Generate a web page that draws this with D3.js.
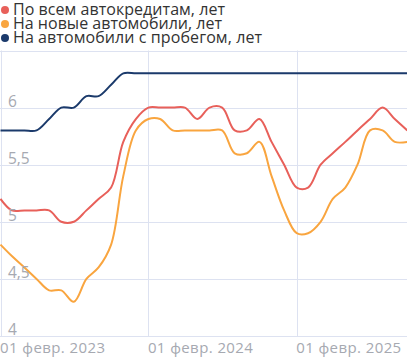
<!DOCTYPE html>
<html><head><meta charset="utf-8">
<script src="https://cdn.jsdelivr.net/npm/d3@7"></script>
<style>
html,body{margin:0;padding:0;background:#fff;}
svg{display:block;font-family:"Open Sans",sans-serif;}
</style></head>
<body>
<svg id="c" width="407" height="360"></svg>
<script>
const months = ["2023-02","2023-03","2023-04","2023-05","2023-06","2023-07","2023-08","2023-09","2023-10","2023-11","2023-12",
"2024-01","2024-02","2024-03","2024-04","2024-05","2024-06","2024-07","2024-08","2024-09","2024-10","2024-11","2024-12",
"2025-01","2025-02","2025-03","2025-04","2025-05","2025-06","2025-07","2025-08","2025-09","2025-10","2025-11"];
const allLoans = [5.2,5.1,5.1,5.1,5.1,5.0,5.0,5.1,5.2,5.3,5.7,
5.9,6.0,6.0,6.0,6.0,5.9,6.0,6.0,5.8,5.8,5.9,5.7,
5.5,5.3,5.3,5.5,5.6,5.7,5.8,5.9,6.0,5.9,5.8];
const newCars = [4.8,4.7,4.6,4.5,4.4,4.4,4.3,4.5,4.6,4.8,5.4,
5.8,5.9,5.9,5.8,5.8,5.8,5.8,5.8,5.6,5.6,5.7,5.4,
5.1,4.9,4.9,5.0,5.2,5.3,5.5,5.8,5.8,5.7,5.7];
const usedCars = [5.8,5.8,5.8,5.8,5.9,6.0,6.0,6.1,6.1,6.2,6.3,
6.3,6.3,6.3,6.3,6.3,6.3,6.3,6.3,6.3,6.3,6.3,6.3,
6.3,6.3,6.3,6.3,6.3,6.3,6.3,6.3,6.3,6.3,6.3];
const seriesNames = ["По всем автокредитам, лет","На новые автомобили, лет","На автомобили с пробегом, лет"];
const colors = ["#e8605a","#f9a53f","#1b3a6b"];
const yTicks = [4,4.5,5,5.5,6];
const yTickLabels = ["4","4,5","5","5,5","6"];
const xTickDates = ["2023-02-01","2024-02-01","2025-02-01"];
const xTickLabels = ["01 февр. 2023","01 февр. 2024","01 февр. 2025"];

const svg = d3.select("#c");
const W = 407, pTop = 50.5, pBottom = 336;
const parse = d3.timeParse("%Y-%m");
const dates = months.map(parse);
const x = d3.scaleTime().domain([new Date(2023,1,1), new Date(2025,1,1)]).range([0.5, 296.7]);
const y = d3.scaleLinear().domain([4,6.5]).range([pBottom, pTop]);

const grid = svg.append("g");
yTicks.concat([6.5]).forEach(v=>{
  grid.append("line").attr("x1",0).attr("x2",W).attr("y1",Math.round(y(v))+0.5).attr("y2",Math.round(y(v))+0.5)
    .attr("stroke","#dde2f1").attr("stroke-width",1);
});
xTickDates.forEach(d=>{
  const px = Math.round(x(new Date(d)))+0.5;
  grid.append("line").attr("x1",px).attr("x2",px).attr("y1",pTop).attr("y2",pBottom)
    .attr("stroke","#dde2f1").attr("stroke-width",1);
});

svg.append("defs").append("clipPath").attr("id","clip").append("rect")
  .attr("x",0).attr("y",pTop-5).attr("width",W).attr("height",pBottom-pTop+10);

const line = d3.line().x((d,i)=>x(dates[i])).y(d=>y(d)).curve(d3.curveCatmullRom.alpha(0.5));
const plot = svg.append("g").attr("clip-path","url(#clip)");
[allLoans,newCars,usedCars].forEach((s,k)=>{
  plot.append("path").datum(s).attr("d",line).attr("fill","none")
    .attr("stroke",colors[k]).attr("stroke-width",2).attr("stroke-linejoin","round");
});

const yl = svg.append("g");
yTicks.forEach((v,i)=>{
  yl.append("text").attr("x",8).attr("y",y(v)-1).attr("fill","#a6a9b1").attr("font-size",15.5).text(yTickLabels[i]);
});
const xl = svg.append("g");
xTickDates.forEach((d,i)=>{
  xl.append("text").attr("x",x(new Date(d))-0.5).attr("y",353).attr("fill","#a6a9b1").attr("font-size",15)
    .attr("textLength",105).attr("lengthAdjust","spacing").text(xTickLabels[i]);
});

const legendWidths = [212, 209, 249];
const lg = svg.append("g");
seriesNames.forEach((n,i)=>{
  lg.append("circle").attr("cx",5).attr("cy",10+i*14).attr("r",4).attr("fill",colors[i]);
  lg.append("text").attr("x",13).attr("y",15+i*14).attr("fill","#333").attr("font-size",16)
    .attr("textLength",legendWidths[i]).attr("lengthAdjust","spacing").text(n);
});
</script>
</body></html>
